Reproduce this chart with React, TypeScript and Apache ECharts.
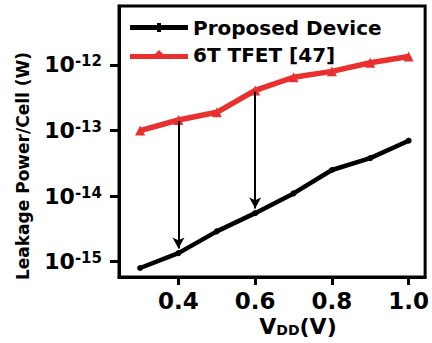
import React, { useEffect, useRef } from 'react';
import * as echarts from 'echarts';

const vdd = [0.3, 0.4, 0.5, 0.6, 0.7, 0.8, 0.9, 1.0];
const proposed = [8.0e-16, 1.35e-15, 2.9e-15, 5.5e-15, 1.1e-14, 2.5e-14, 3.8e-14, 7.0e-14];
const tfet6t = [1.0e-13, 1.45e-13, 1.9e-13, 4.1e-13, 6.5e-13, 8.0e-13, 1.08e-12, 1.35e-12];
const yTickExponents = [-15, -14, -13, -12];
const xTickValues = [0.4, 0.6, 0.8, 1.0];
const arrowVdd = [0.4, 0.6];
const seriesNames = ['Proposed Device', '6T TFET [47]'];

const RED = '#e8312f';
const FONT = '"DejaVu Sans", sans-serif';

export default function App() {
  const ref = useRef<HTMLDivElement>(null);
  useEffect(() => {
    if (!ref.current) return;
    const chart = echarts.init(ref.current, null, { renderer: 'svg' });
    const lg = (v: number) => Math.log10(v);
    const blackData = vdd.map((x, i) => [x, lg(proposed[i])]);
    const redData = vdd.map((x, i) => [x, lg(tfet6t[i])]);
    const arrows = arrowVdd.map((x) => {
      const i = vdd.indexOf(x);
      return [
        { coord: [x, lg(tfet6t[i]) - 0.02] },
        { coord: [x, lg(proposed[i]) + 0.07] },
      ];
    });
    chart.setOption({
      animation: false,
      grid: {
        left: 119,
        right: 3,
        top: 6,
        bottom: 66,
        show: true,
        borderColor: '#000',
        borderWidth: 3,
      },
      legend: {
        orient: 'vertical',
        left: 125,
        top: 12.5,
        itemWidth: 58,
        itemHeight: 9,
        itemGap: 7,
        data: [
          { name: seriesNames[0], icon: 'path://M0,2L27,2L27,0L31,0L31,2L58,2L58,7L31,7L31,9L27,9L27,7L0,7Z' },
          { name: seriesNames[1], icon: 'path://M0,4L25,4L29,0L33,4L58,4L58,9L0,9Z' },
        ],
        textStyle: { fontFamily: FONT, fontWeight: 'bold', fontSize: 20, lineHeight: 20, color: '#000' },
      },
      xAxis: {
        type: 'value',
        min: 0.245,
        max: 1.043,
        splitLine: { show: false },
        axisLine: { show: true, onZero: false, lineStyle: { color: '#000', width: 3 } },
        axisTick: { show: true, customValues: xTickValues, length: 8, lineStyle: { color: '#000', width: 3 } },
        axisLabel: {
          customValues: xTickValues,
          margin: 12,
          fontFamily: FONT,
          fontWeight: 'bold',
          fontSize: 23,
          color: '#000',
          formatter: (v: number) => v.toFixed(1),
        },
      },
      yAxis: {
        type: 'value',
        min: -15.234,
        max: -11.1,
        splitLine: { show: false },
        axisLine: { show: true, onZero: false, lineStyle: { color: '#000', width: 3 } },
        axisTick: { show: true, customValues: yTickExponents, length: 9, lineStyle: { color: '#000', width: 3 } },
        axisLabel: {
          customValues: yTickExponents,
          margin: 17,
          color: '#000',
          formatter: (v: number) => `{b|10}{s|${v}}`,
          rich: {
            b: { fontFamily: FONT, fontWeight: 'bold', fontSize: 22, color: '#000', lineHeight: 22 },
            s: { fontFamily: FONT, fontWeight: 'bold', fontSize: 15, color: '#000', verticalAlign: 'top', lineHeight: 5 },
          },
        },
      },
      graphic: [
        {
          type: 'text',
          x: 22.5,
          y: 166,
          rotation: Math.PI / 2,
          style: {
            text: 'Leakage Power/Cell (W)',
            fontFamily: FONT,
            fontWeight: 'bold',
            fontSize: 17,
            fill: '#000',
            align: 'center',
            verticalAlign: 'middle',
          },
        },
        {
          type: 'text',
          x: 298,
          y: 326,
          style: {
            text: '{v|V}{d|DD}{v|(V)}',
            align: 'center',
            verticalAlign: 'middle',
            rich: {
              v: { fontFamily: FONT, fontWeight: 'bold', fontSize: 22, fill: '#000', lineHeight: 22 },
              d: { fontFamily: FONT, fontWeight: 'bold', fontSize: 14, fill: '#000', lineHeight: 4, verticalAlign: 'bottom' },
            },
          },
        },
      ],
      series: [
        {
          name: seriesNames[0],
          type: 'line',
          data: blackData,
          symbol: 'circle',
          symbolSize: 6,
          itemStyle: { color: '#000' },
          lineStyle: { color: '#000', width: 4.5 },
          z: 3,
          markLine: {
            silent: true,
            symbol: ['none', 'arrow'],
            symbolSize: [9, 11],
            label: { show: false },
            lineStyle: { color: '#000', width: 2, type: 'solid' },
            data: arrows,
          },
        },
        {
          name: seriesNames[1],
          type: 'line',
          data: redData,
          symbol: 'triangle',
          symbolSize: 10,
          itemStyle: { color: RED },
          lineStyle: { color: RED, width: 5.5 },
          z: 2,
        },
      ],
    });
    return () => chart.dispose();
  }, []);
  return <div ref={ref} style={{ width: 432, height: 343, position: 'absolute', left: 0, top: 0, background: '#fff' }} />;
}
